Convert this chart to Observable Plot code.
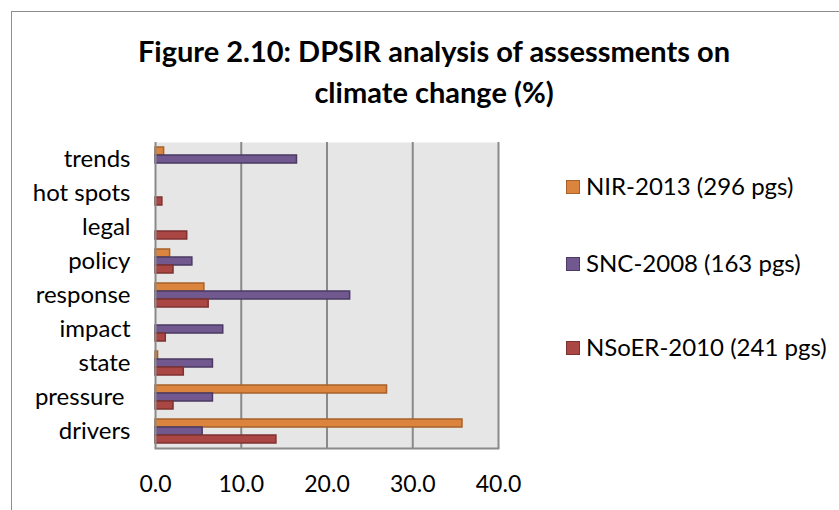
<!DOCTYPE html>
<html><head><meta charset="utf-8">
<script src="https://cdn.jsdelivr.net/npm/d3@7"></script>
<script src="https://cdn.jsdelivr.net/npm/@observablehq/plot@0.6"></script>
<style>
body{margin:0;background:#fff;font-family:Lato,"Open Sans",sans-serif;}
#wrap{position:relative;width:839px;height:510px;overflow:hidden;background:#fff;}
#border{position:absolute;left:11px;top:11px;width:900px;height:600px;border:1.5px solid #8e8e8e;}
#title{position:absolute;left:0;width:868px;top:30px;text-align:center;font-weight:bold;font-size:29px;line-height:41px;color:#000;}
#plot{position:absolute;left:0;top:130px;}
.leg{position:absolute;left:566px;height:28px;line-height:28px;font-size:24px;color:#000;white-space:nowrap;}
.sw{display:inline-block;width:14px;height:14px;box-sizing:border-box;border:1.5px solid;vertical-align:middle;margin-right:6px;position:relative;top:-2px;}
</style></head>
<body>
<div id="wrap">
  <div id="border"></div>
  <div id="title">Figure 2.10: DPSIR analysis of assessments on<br>climate change (%)</div>
  <div id="plot"></div>
  <div id="legend"></div>
</div>
<script>
const categories = ["drivers","pressure ","state","impact","response","policy","legal","hot spots","trends"];
const series = ["NIR-2013 (296 pgs)","SNC-2008 (163 pgs)","NSoER-2010 (241 pgs)"];
const nir   = [35.8, 27.0, 0.3, null, 5.7, 1.7, null, null, 1.0];
const snc   = [5.5, 6.7, 6.7, 7.9, 22.7, 4.3, null, null, 16.5];
const nsoer = [14.1, 2.1, 3.3, 1.2, 6.2, 2.1, 3.7, 0.8, null];
const xTicks = [0, 10, 20, 30, 40];

const fills = ["#DB843D", "#71588F", "#AA4643"];
const strokes = ["#A8612A", "#4B3A63", "#7E3230"];
const values = [nir, snc, nsoer];

const rows = [];
series.forEach((s, si) => categories.forEach((c, ci) => {
  if (values[si][ci] != null) rows.push({series: s, si, category: c, value: values[si][ci]});
}));

const slots = [[5, 21], [13, 13], [21, 5]];
const barMarks = series.map((s, si) => Plot.barX(rows.filter(d => d.si === si), {
  x: "value", y: "category",
  fill: fills[si], stroke: strokes[si], strokeWidth: 1.5,
  insetTop: slots[si][0], insetBottom: slots[si][1]
}));

const chart = Plot.plot({
  width: 560, height: 380,
  marginLeft: 155, marginRight: 62, marginTop: 12, marginBottom: 62,
  style: {fontFamily: "Lato, 'Open Sans', sans-serif", fontSize: "24px", color: "#000", background: "transparent"},
  x: {domain: [0, 40]},
  y: {domain: [...categories].reverse(), padding: 0},
  marks: [
    Plot.frame({fill: "#e6e6e6", stroke: null}),
    Plot.ruleX(xTicks.slice(1), {stroke: "#8a8a8a", strokeWidth: 2}),
    ...barMarks,
    Plot.ruleX([0], {stroke: "#8a8a8a", strokeWidth: 2}),
    Plot.frame({anchor: "bottom", stroke: "#8a8a8a", strokeWidth: 2}),
    Plot.axisY({tickSize: 0, tickPadding: 25, fontSize: 24, label: null}),
    Plot.axisX({ticks: xTicks, tickFormat: d => d.toFixed(1), tickSize: 0, tickPadding: 27, fontSize: 23, label: null})
  ]
});
document.getElementById("plot").appendChild(chart);

const legendTops = [172, 249, 333];
const legend = document.getElementById("legend");
series.forEach((s, i) => {
  const row = document.createElement("div");
  row.className = "leg";
  row.style.top = legendTops[i] + "px";
  row.innerHTML = `<span class="sw" style="background:${fills[i]};border-color:${strokes[i]}"></span>${s}`;
  legend.appendChild(row);
});
</script>
</body></html>
